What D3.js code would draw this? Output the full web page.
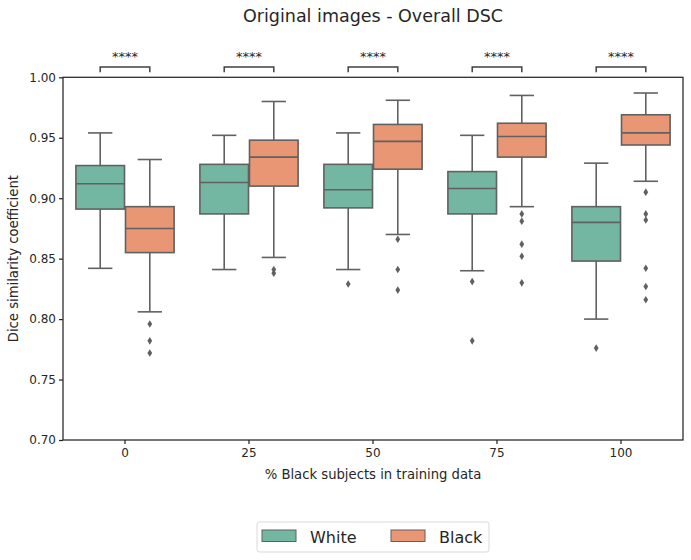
<!DOCTYPE html>
<html>
<head>
<meta charset="utf-8">
<script src="https://cdn.jsdelivr.net/npm/d3@7"></script>
<style>
  body { margin: 0; background: #fff; }
  text { font-family: "DejaVu Sans", sans-serif; fill: #262626; }
  .axis path, .axis line { stroke: #262626; stroke-width: 1.25; }
  .axis text { font-size: 12px; }
</style>
</head>
<body>
<div id="chart"></div>
<script>
const margin = { top: 77.3, right: 8, bottom: 120, left: 63 };
const width = 691 - margin.left - margin.right;
const height = 560 - margin.top - margin.bottom;

const categories = ["0", "25", "50", "75", "100"];
const groups = ["White", "Black"];
const yTicks = [0.70, 0.75, 0.80, 0.85, 0.90, 0.95, 1.00];

// five-number summaries
const whiteLow    = [0.842, 0.841, 0.841, 0.840, 0.800];
const whiteQ1     = [0.891, 0.887, 0.892, 0.887, 0.848];
const whiteMedian = [0.912, 0.913, 0.907, 0.908, 0.880];
const whiteQ3     = [0.927, 0.928, 0.928, 0.922, 0.893];
const whiteHigh   = [0.954, 0.952, 0.954, 0.952, 0.929];
const whiteOutliers = [[], [], [0.829], [0.831, 0.782], [0.776]];

const blackLow    = [0.806, 0.851, 0.870, 0.893, 0.914];
const blackQ1     = [0.855, 0.910, 0.924, 0.934, 0.944];
const blackMedian = [0.875, 0.934, 0.947, 0.951, 0.954];
const blackQ3     = [0.893, 0.948, 0.961, 0.962, 0.969];
const blackHigh   = [0.932, 0.980, 0.981, 0.985, 0.987];
const blackOutliers = [
  [0.796, 0.782, 0.772],
  [0.841, 0.838],
  [0.866, 0.841, 0.824],
  [0.887, 0.881, 0.862, 0.852, 0.830],
  [0.905, 0.887, 0.882, 0.842, 0.827, 0.816]
];
const significance = ["****", "****", "****", "****", "****"];

const colors = { White: "#73b6a1", Black: "#e99675" };
const lineColor = "#616161";

var stats = { White: [], Black: [] };
categories.forEach(function(c, i) {
  stats.White.push({ cat: c, low: whiteLow[i], q1: whiteQ1[i], med: whiteMedian[i], q3: whiteQ3[i], high: whiteHigh[i], out: whiteOutliers[i] });
  stats.Black.push({ cat: c, low: blackLow[i], q1: blackQ1[i], med: blackMedian[i], q3: blackQ3[i], high: blackHigh[i], out: blackOutliers[i] });
});

var x = d3.scaleBand().domain(categories).range([0, width]).paddingInner(0.2).paddingOuter(0.1);
var xHue = d3.scaleBand().domain(groups).range([0, x.bandwidth()]);
var y = d3.scaleLinear().domain([0.70, 1.00]).range([height, 0]);

var svg = d3.select("#chart").append("svg")
  .attr("width", 691).attr("height", 560);

svg.append("text")
  .attr("x", margin.left + width / 2).attr("y", 22)
  .attr("text-anchor", "middle")
  .style("font-size", "17.5px")
  .text("Original images - Overall DSC");

var g = svg.append("g").attr("transform", "translate(" + margin.left + "," + margin.top + ")");

// frame
g.append("rect").attr("width", width).attr("height", height)
  .attr("fill", "none").attr("stroke", "#262626").attr("stroke-width", 1.25);

g.append("g").attr("class", "axis")
  .attr("transform", "translate(0," + height + ")")
  .call(d3.axisBottom(x).tickSize(4).tickPadding(4))
  .call(function(a) { a.select(".domain").remove(); });

g.append("g").attr("class", "axis")
  .call(d3.axisLeft(y).tickValues(yTicks).tickFormat(d3.format(".2f")).tickSize(4).tickPadding(3))
  .call(function(a) { a.select(".domain").remove(); });

g.append("text")
  .attr("x", width / 2).attr("y", height + 39)
  .attr("text-anchor", "middle").style("font-size", "13.2px")
  .text("% Black subjects in training data");

g.append("text")
  .attr("transform", "translate(" + (-45) + "," + (height / 2) + ") rotate(-90)")
  .attr("text-anchor", "middle").style("font-size", "13.2px")
  .text("Dice similarity coefficient");

groups.forEach(function(grp) {
  var bw = xHue.bandwidth() * 0.98;
  var layer = g.append("g");
  var box = layer.selectAll(".box-" + grp).data(stats[grp]).enter().append("g")
    .attr("transform", function(d) { return "translate(" + (x(d.cat) + xHue(grp) + xHue.bandwidth() / 2) + ",0)"; });

  box.append("line").attr("y1", function(d) { return y(d.high); }).attr("y2", function(d) { return y(d.q3); })
    .attr("stroke", lineColor).attr("stroke-width", 1.6);
  box.append("line").attr("y1", function(d) { return y(d.low); }).attr("y2", function(d) { return y(d.q1); })
    .attr("stroke", lineColor).attr("stroke-width", 1.6);
  box.selectAll(".cap").data(function(d) { return [d.low, d.high]; }).enter().append("line")
    .attr("x1", -bw / 4).attr("x2", bw / 4)
    .attr("y1", function(v) { return y(v); }).attr("y2", function(v) { return y(v); })
    .attr("stroke", lineColor).attr("stroke-width", 1.6);
  box.append("rect")
    .attr("x", -bw / 2).attr("width", bw)
    .attr("y", function(d) { return y(d.q3); })
    .attr("height", function(d) { return y(d.q1) - y(d.q3); })
    .attr("fill", colors[grp]).attr("stroke", lineColor).attr("stroke-width", 1.6);
  box.append("line").attr("x1", -bw / 2).attr("x2", bw / 2)
    .attr("y1", function(d) { return y(d.med); }).attr("y2", function(d) { return y(d.med); })
    .attr("stroke", lineColor).attr("stroke-width", 1.6);
  box.selectAll(".out").data(function(d) { return d.out; }).enter().append("path")
    .attr("d", function(v) { var cy = y(v); return "M0," + (cy - 3.8) + "L2.4," + cy + "L0," + (cy + 3.8) + "L-2.4," + cy + "Z"; })
    .attr("fill", lineColor);
});

// significance brackets above the plot
var bracket = g.selectAll(".sig").data(categories).enter().append("g");
bracket.append("path")
  .attr("d", function(c) {
    var x1 = x(c) + xHue("White") + xHue.bandwidth() / 2;
    var x2 = x(c) + xHue("Black") + xHue.bandwidth() / 2;
    var yTop = y(1.0085), yBot = y(1.0042);
    return "M" + x1 + "," + yBot + "L" + x1 + "," + yTop + "L" + x2 + "," + yTop + "L" + x2 + "," + yBot;
  })
  .attr("fill", "none").attr("stroke", "#404040").attr("stroke-width", 1.5);
bracket.append("text")
  .attr("x", function(c) { return x(c) + x.bandwidth() / 2; })
  .attr("y", y(1.0138))
  .attr("text-anchor", "middle").style("font-size", "13px")
  .text(function(c, i) { return significance[i]; });

// legend
var legend = svg.append("g").attr("transform", "translate(257,522)");
legend.append("rect").attr("width", 232).attr("height", 30).attr("rx", 2.5)
  .attr("fill", "#fff").attr("stroke", "#d9d9d9").attr("stroke-width", 1);
var item = legend.selectAll(".item").data(groups).enter().append("g")
  .attr("transform", function(d, i) { return "translate(" + (5 + i * 129) + ",8)"; });
item.append("rect").attr("width", 34).attr("height", 11.5)
  .attr("fill", function(d) { return colors[d]; }).attr("stroke", lineColor).attr("stroke-width", 1);
item.append("text").attr("x", 48).attr("y", 12.5).style("font-size", "16px").text(function(d) { return d; });
</script>
</body>
</html>
